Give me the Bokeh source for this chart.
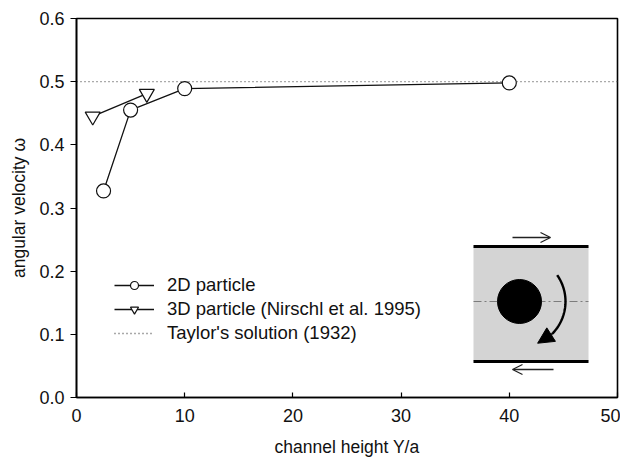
import numpy as np
from bokeh.plotting import figure
from bokeh.models import (Legend, LegendItem, Arrow, OpenHead, NormalHead,
                          FixedTicker, Range1d, CustomJSTickFormatter)
from bokeh.embed import file_html
from bokeh.resources import INLINE

# ---- data ----
x_2d = [2.5, 5.0, 10.0, 40.0]
y_2d = [0.327, 0.455, 0.489, 0.498]
x_3d = [1.5, 6.5]
y_3d = [0.445, 0.481]
taylor_x = [0, 50]
taylor_y = [0.5, 0.5]
x_ticks = [0, 10, 20, 30, 40, 50]
y_ticks = [0.0, 0.1, 0.2, 0.3, 0.4, 0.5, 0.6]

FONT = "Liberation Sans"

p = figure(frame_width=541, frame_height=379, output_backend="svg",
           toolbar_location=None, x_range=Range1d(0, 50), y_range=Range1d(0, 0.6),
           min_border_left=76, min_border_top=18, min_border_right=3,
           min_border_bottom=10)
p.grid.visible = False
p.outline_line_color = "black"
p.outline_line_width = 1.6
p.background_fill_color = "white"
p.border_fill_color = "white"

for ax in (p.xaxis[0], p.yaxis[0]):
    ax.axis_line_color = "black"
    ax.axis_line_width = 1.6
    ax.major_tick_line_color = "black"
    ax.major_tick_line_width = 1.2
    ax.minor_tick_line_color = None
    ax.major_label_text_font = FONT
    ax.major_label_text_font_size = "18px"
    ax.major_label_text_color = "#111111"
    ax.axis_label_text_font = FONT
    ax.axis_label_text_font_size = "17.5px"
    ax.axis_label_text_font_style = "normal"
    ax.axis_label_text_color = "#111111"

p.xaxis.ticker = FixedTicker(ticks=x_ticks)
p.yaxis.ticker = FixedTicker(ticks=y_ticks)
p.xaxis.major_tick_in = 5
p.xaxis.major_tick_out = 0
p.yaxis.major_tick_in = 0
p.yaxis.major_tick_out = 6
p.xaxis.major_label_standoff = 11
p.yaxis.major_label_standoff = 6
p.xaxis.axis_label = "channel height Y/a"
p.yaxis.axis_label = "angular velocity ω"
p.xaxis.axis_label_standoff = 12
p.yaxis.axis_label_standoff = 7
p.yaxis.formatter = CustomJSTickFormatter(code="return tick.toFixed(1);")

# Taylor line
r_t = p.line(taylor_x, taylor_y, line_color="#555555", line_width=1.3, line_dash="1 3")

# 2D particle
l2 = p.line(x_2d, y_2d, line_color="#111111", line_width=1.3)
s2 = p.scatter(x_2d, y_2d, marker="circle", size=14, fill_color="white",
               line_color="#111111", line_width=1.2)
# 3D particle
l3 = p.line(x_3d, y_3d, line_color="#111111", line_width=1.3)
s3 = p.scatter(x_3d, y_3d, marker="inverted_triangle", size=15, fill_color="white",
               line_color="#111111", line_width=1.2)

legend = Legend(items=[
    LegendItem(label="2D particle", renderers=[l2, s2]),
    LegendItem(label="3D particle (Nirschl et al. 1995)", renderers=[l3, s3]),
    LegendItem(label="Taylor's solution (1932)", renderers=[r_t]),
], location=(38, 53), border_line_color=None, background_fill_alpha=0,
   padding=0, margin=0, spacing=2, glyph_width=40, glyph_height=20,
   label_height=20, label_standoff=13, label_text_font=FONT,
   label_text_font_size="18.5px", label_text_color="#111111")
p.add_layout(legend)

# ---- inset schematic (decoration, geometry in pixels converted to data) ----
pxx = 50 / 541.0
pxy = 0.6 / 379.0
def dx(px):  # frame pixel -> data x
    return px * pxx
def dy(py):  # pixels from frame bottom -> data y
    return py * pxy

L, R = 397, 512          # frame px
B, T = 36, 151
cx, cy = 443, 96
p.quad(left=dx(L), right=dx(R), bottom=dy(B), top=dy(T), fill_color="#d4d4d4",
       line_color=None)
p.line([dx(L), dx(R)], [dy(T), dy(T)], line_color="black", line_width=3)
p.line([dx(L), dx(R)], [dy(B), dy(B)], line_color="black", line_width=3)
p.line([dx(L), dx(R)], [dy(cy), dy(cy)], line_color="#666666", line_width=0.8,
       line_dash="8 3 2 3")
p.scatter([dx(cx)], [dy(cy)], marker="circle", size=44, fill_color="black",
          line_color="black")
p.add_layout(Arrow(end=OpenHead(size=10, line_width=1.3, line_color="#222222"),
                   x_start=dx(436), y_start=dy(160), x_end=dx(474), y_end=dy(160),
                   line_width=1.3, line_color="#222222"))
p.add_layout(Arrow(end=OpenHead(size=10, line_width=1.3, line_color="#222222"),
                   x_start=dx(477), y_start=dy(28), x_end=dx(436), y_end=dy(28),
                   line_width=1.3, line_color="#222222"))
ang = np.linspace(np.radians(35), np.radians(-45), 40)
ax_ = cx + 46 * np.cos(ang)
ay_ = cy + 46 * np.sin(ang)
p.line(dx(ax_), dy(ay_), line_color="black", line_width=2.4)
a2 = np.radians(-62)
p.add_layout(Arrow(end=NormalHead(size=16, fill_color="black", line_color="black"),
                   x_start=dx(ax_[-1]), y_start=dy(ay_[-1]),
                   x_end=dx(cx + 45 * np.cos(a2) - 3), y_end=dy(cy + 45 * np.sin(a2) - 2),
                   line_width=2.4, line_color="black"))

open("out.html", "w").write(file_html(p, INLINE))
